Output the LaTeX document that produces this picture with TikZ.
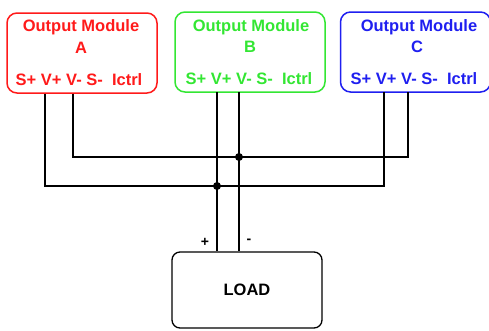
\documentclass[tikz,border=0pt]{standalone}
\usepackage{fontspec}
\setmainfont{Liberation Sans}
\definecolor{modred}{HTML}{FF1A1A}
\definecolor{modgreen}{HTML}{33E633}
\definecolor{modblue}{HTML}{1F1FF0}

\begin{document}
\begin{tikzpicture}[x=1pt,y=-1pt,
  module/.style={draw=#1, line width=1.5pt, rounded corners=10pt, minimum width=150pt, minimum height=80pt},
  modtext/.style={text=#1, font=\fontsize{16.5}{18}\selectfont\bfseries, inner sep=0pt},
  wire/.style={line width=1.3pt},
  junction/.style={circle, fill, inner sep=0pt, minimum size=8pt}]
\useasboundingbox (0,0) rectangle (489,330);
% modules
\node[module=modred] (A) at (82,53) {};
\node[modtext=modred] (A1) at (81,27) {Output Module};
\node[modtext=modred] (A2) at (81,48) {A};
\node[modtext=modred] (A3) at (79,80) {S+ V+ V- S- \ Ictrl};
\node[module=modgreen] (B) at (250,52) {};
\node[modtext=modgreen] (B1) at (251,27) {Output Module};
\node[modtext=modgreen] (B2) at (250,47) {B};
\node[modtext=modgreen] (B3) at (249,79) {S+ V+ V- S- \ Ictrl};
\node[module=modblue] (C) at (415.5,52) {};
\node[modtext=modblue] (C1) at (419,27) {Output Module};
\node[modtext=modblue] (C2) at (417,47) {C};
\node[modtext=modblue] (C3) at (414,79) {S+ V+ V- S- \ Ictrl};
% load
\node[draw, wire, rounded corners=8pt, minimum width=150pt, minimum height=76pt,
  font=\fontsize{16.5}{18}\selectfont\bfseries] (load) at (247,290) {LOAD};
\node[font=\fontsize{14}{15}\selectfont\bfseries] (plus) at (205,242) {+};
\node[font=\fontsize{14}{15}\selectfont\bfseries] (minus) at (249,241) {-};
% pins
\coordinate (AVp) at (45,93.5);
\coordinate (AVm) at (73,93.5);
\coordinate (BVp) at (217,92);
\coordinate (BVm) at (239,92);
\coordinate (CVp) at (384,92);
\coordinate (CVm) at (408,92);
\coordinate (busP) at (217,186);
\coordinate (busM) at (239,157);
% wiring
\draw[wire] (AVm) |- (busM) -| (CVm);
\draw[wire] (AVp) |- (busP) -| (CVp);
\draw[wire] (BVp) -- (BVp |- load.north);
\draw[wire] (BVm) -- (BVm |- load.north);
\node[junction] (jM) at (busM) {};
\node[junction] (jP) at (busP) {};
\end{tikzpicture}
\end{document}
